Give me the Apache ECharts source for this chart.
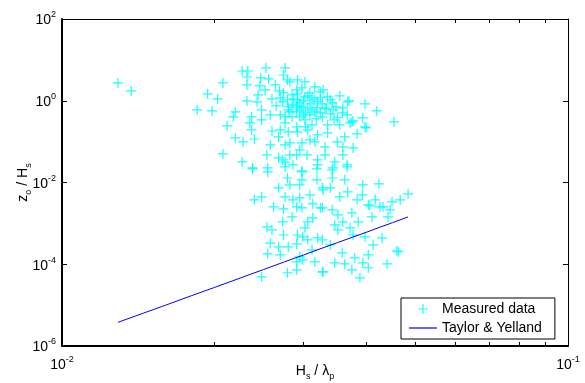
<!DOCTYPE html>
<html>
<head>
<meta charset="utf-8">
<script src="https://cdn.jsdelivr.net/npm/echarts@6/dist/echarts.min.js"></script>
<style>
  html, body { margin: 0; padding: 0; background: #fff; }
  #chart { width: 585px; height: 383px; }
</style>
</head>
<body>
<div id="chart"></div>
<script>
const measuredX = [
  0.0129, 0.0137, 0.0185, 0.0198, 0.0194, 0.0203, 0.0208, 0.0212, 0.0220, 0.0218,
  0.0220, 0.0228, 0.0208, 0.0227, 0.0227, 0.0233, 0.0253, 0.0276, 0.0232, 0.0247,
  0.0256, 0.0232, 0.0246, 0.0279, 0.0232, 0.0243, 0.0269, 0.0260, 0.0270, 0.0237,
  0.0248, 0.0258, 0.0270, 0.0280, 0.0235, 0.0237, 0.0240, 0.0260, 0.0268, 0.0276,
  0.0238, 0.0254, 0.0255, 0.0268, 0.0276, 0.0282, 0.0302, 0.0316, 0.0328, 0.0285,
  0.0292, 0.0302, 0.0312, 0.0324, 0.0335, 0.0280, 0.0291, 0.0298, 0.0306, 0.0319,
  0.0331, 0.0343, 0.0359, 0.0367, 0.0397, 0.0419, 0.0285, 0.0295, 0.0309, 0.0335,
  0.0350, 0.0366, 0.0374, 0.0393, 0.0397, 0.0383, 0.0280, 0.0292, 0.0306, 0.0320,
  0.0335, 0.0350, 0.0362, 0.0282, 0.0298, 0.0316, 0.0331, 0.0359, 0.0376, 0.0282,
  0.0291, 0.0305, 0.0320, 0.0286, 0.0298, 0.0320, 0.0346, 0.0342, 0.0366, 0.0359,
  0.0369, 0.0453, 0.0376, 0.0399, 0.0371, 0.0366, 0.0238, 0.0255, 0.0276, 0.0298,
  0.0319, 0.0279, 0.0298, 0.0319, 0.0282, 0.0240, 0.0248, 0.0276, 0.0295, 0.0309,
  0.0327, 0.0262, 0.0274, 0.0291, 0.0298, 0.0313, 0.0324, 0.0285, 0.0273, 0.0313,
  0.0254, 0.0260, 0.0302, 0.0292, 0.0299, 0.0320, 0.0258, 0.0268, 0.0280, 0.0291,
  0.0306, 0.0255, 0.0270, 0.0295, 0.0291, 0.0299, 0.0279, 0.0291, 0.0327, 0.0248,
  0.0343, 0.0342, 0.0328, 0.0339, 0.0367, 0.0354, 0.0392, 0.0393, 0.0423, 0.0416,
  0.0406, 0.0431, 0.0449, 0.0466, 0.0483, 0.0327, 0.0342, 0.0374, 0.0410, 0.0441,
  0.0445, 0.0346, 0.0359, 0.0371, 0.0351, 0.0376, 0.0397, 0.0429, 0.0327, 0.0358,
  0.0412, 0.0462, 0.0346, 0.0362, 0.0393, 0.0403, 0.0403, 0.0439, 0.0374, 0.0328,
  0.0388, 0.0425, 0.0403, 0.0459, 0.0274, 0.0291, 0.0298, 0.0309, 0.0320, 0.0295,
  0.0309, 0.0316, 0.0327, 0.0302, 0.0276, 0.0291, 0.0342, 0.0354, 0.0279, 0.0265,
  0.0291, 0.0303, 0.0339, 0.0285, 0.0324, 0.0244, 0.0252, 0.0264, 0.0274, 0.0292,
  0.0309, 0.0295, 0.0331, 0.0270, 0.0248, 0.0258, 0.0273, 0.0354, 0.0312, 0.0295,
  0.0268, 0.0286, 0.0306, 0.0274, 0.0312, 0.0339, 0.0379, 0.0316, 0.0351, 0.0385,
  0.0295, 0.0362, 0.0383, 0.0287, 0.0300, 0.0315, 0.0327, 0.0339, 0.0348, 0.0282,
  0.0300, 0.0312, 0.0324, 0.0333, 0.0292, 0.0306, 0.0273, 0.0291, 0.0318, 0.0345,
  0.0276, 0.0358, 0.0303
];
const measuredY = [
  2.73, 1.74, 0.596, 0.563, 1.47, 1.11, 2.73, 0.242, 0.533, 0.402,
  0.123, 0.0983, 0.050, 0.0319, 5.35, 5.35, 6.34, 6.34, 3.81, 3.61,
  3.41, 2.44, 2.30, 3.23, 0.992, 0.939, 1.74, 1.11, 1.17, 0.402,
  0.596, 0.450, 0.450, 0.596, 0.287, 0.193, 0.116, 0.182, 0.130, 0.083,
  0.0227, 0.0473, 0.0227, 0.0399, 0.0319, 2.89, 2.89, 2.18, 1.84, 1.39,
  1.05, 1.24, 1.17, 1.17, 1.24, 0.708, 0.669, 0.708, 0.669, 0.669,
  0.669, 0.596, 0.669, 0.939, 0.838, 0.563, 0.402, 0.402, 0.450, 0.257,
  0.380, 0.450, 0.304, 0.380, 0.229, 0.154, 0.173, 0.173, 0.193, 0.146,
  0.163, 0.0983, 0.130, 0.093, 0.093, 0.0983, 0.0741, 0.0741, 0.070, 0.0473,
  0.0473, 0.0473, 0.0357, 0.027, 0.0181, 0.027, 0.0319, 0.0203, 0.0241, 0.0473,
  0.992, 0.304, 0.321, 0.217, 0.287, 0.027, 0.0215, 0.0181, 0.0241, 0.0192,
  0.0215, 0.0129, 0.0116, 0.0116, 0.00876, 0.00376, 0.00444, 0.00444, 0.0042, 0.00498,
  0.00739, 0.00253, 0.00226, 0.00253, 0.0024, 0.0030, 0.0024, 0.00144, 0.00109, 0.00136,
  0.00082, 0.000693, 0.00078, 0.00052, 0.00047, 0.00044, 0.00033, 0.000266, 0.000266, 0.000315,
  0.000395, 0.00018, 0.00017, 0.000152, 0.000114, 0.000128, 0.000062, 0.000073, 0.000065, 0.000049,
  0.0227, 0.0129, 0.00659, 0.00739, 0.00589, 0.00444, 0.00498, 0.00876, 0.00926, 0.00376,
  0.00268, 0.00253, 0.00336, 0.00376, 0.00526, 0.0024, 0.00214, 0.00181, 0.00144, 0.00144,
  0.00214, 0.00092, 0.00109, 0.00078, 0.000693, 0.00052, 0.00047, 0.00044, 0.000395, 0.00019,
  0.000298, 0.00020, 0.000108, 0.000102, 0.000108, 0.00017, 0.000082, 0.000102, 0.000073, 0.000065,
  0.0000465, 0.00253, 0.00284, 0.000213, 1.55, 1.84, 2.06, 1.55, 0.939, 0.887,
  0.838, 0.533, 0.402, 0.340, 0.287, 0.229, 0.887, 1.31, 1.05, 0.749,
  0.533, 0.504, 0.476, 0.793, 1.64, 1.39, 1.84, 2.44, 4.27, 3.23,
  0.110, 0.0627, 0.0473, 0.193, 0.340, 0.083, 0.0357, 0.257, 0.257, 0.596,
  0.00739, 0.00376, 0.00109, 0.00052, 0.000225, 0.000298, 0.000143, 0.000114, 0.00162, 0.00109,
  0.00876, 0.0116, 0.00376, 1.11, 0.992, 1.05, 0.838, 1.05, 0.708, 0.533,
  0.450, 0.596, 0.504, 0.632, 1.47, 1.31, 0.939, 0.749, 0.359, 0.340,
  0.402, 0.504, 0.229
];

// Taylor & Yelland curve
const tyX = [0.0129, 0.0145, 0.016, 0.018, 0.02, 0.0225, 0.025, 0.0275, 0.03, 0.0325, 0.035, 0.0375, 0.04, 0.0425, 0.045, 0.0483];
const tyY = [3.8e-6, 6.4e-6, 9.9e-6, 1.69e-5, 2.7e-5, 4.6e-5, 7.4e-5, 1.14e-4, 1.68e-4, 2.42e-4, 3.37e-4, 4.59e-4, 6.1e-4, 8.07e-4, 1.04e-3, 1.44e-3];

// tick values of the x axis (one decade, minor ticks at 2..9)
const xMinorTicks = [0.02, 0.03, 0.04, 0.05, 0.06, 0.07, 0.08, 0.09];

const FONT = 'Liberation Sans, Arial, sans-serif';
const plusPath = 'path://M4.4,0H5.6V10H4.4Z M0,4.4H10V5.6H0Z';
const linePath = 'path://M0,0H28V1.2H0Z';

const chart = echarts.init(document.getElementById('chart'), null, { renderer: 'canvas' });

// 10^n label with superscript exponent
const powLabel = (v) => '{b|10}{s|' + Math.round(Math.log10(v)) + '}';
const powRich = {
  b: { fontSize: 14, fontFamily: FONT, color: '#000', lineHeight: 16, verticalAlign: 'bottom' },
  s: { fontSize: 9, fontFamily: FONT, color: '#000', verticalAlign: 'top', padding: [0, 0, 8, 0] }
};
const nameRich = {
  m: { fontSize: 14, fontFamily: FONT, color: '#000', lineHeight: 16, verticalAlign: 'top' },
  u: { fontSize: 9, fontFamily: FONT, color: '#000', verticalAlign: 'top', padding: [8, 0, 0, 0] }
};

const measured = measuredX.map((x, i) => [x, measuredY[i]]);
const tyLine = tyX.map((x, i) => [x, tyY[i]]);

// minor tick axis: log10 positions of the minor ticks on a plain value axis
const minorAxis = (position) => ({
  type: 'value', min: -2, max: -1, position: position,
  axisLine: { show: true, lineStyle: { color: '#000', width: position === 'bottom' ? 2 : 1 } },
  axisTick: {
    show: true, inside: true, length: 4,
    customValues: xMinorTicks.map(Math.log10),
    lineStyle: { color: '#000', width: 1 }
  },
  axisLabel: { show: false },
  splitLine: { show: false }
});

const option = {
  animation: false,
  backgroundColor: '#fff',
  grid: { left: 62, right: 17, top: 19, bottom: 37, containLabel: false, outerBoundsMode: 'none' },
  legend: {
    left: 401, top: 298,
    orient: 'vertical',
    backgroundColor: '#fff',
    borderColor: '#000', borderWidth: 1,
    padding: [4, 13, 4, 8],
    itemGap: 5, itemWidth: 28, itemHeight: 10,
    textStyle: { fontFamily: FONT, fontSize: 14, color: '#000' },
    data: [
      { name: 'Measured data', icon: plusPath },
      { name: 'Taylor & Yelland', icon: linePath }
    ]
  },
  xAxis: [
    {
      type: 'log', logBase: 10, min: 0.01, max: 0.1,
      name: '{m|H}{u|s}{m| / λ}{u|p}',
      nameLocation: 'middle', nameGap: 18, nameMoveOverlap: false,
      nameTextStyle: { rich: nameRich },
      axisLine: { lineStyle: { color: '#000', width: 2 } },
      axisTick: { show: false },
      axisLabel: { margin: 9, formatter: powLabel, rich: powRich },
      splitLine: { show: false }
    },
    {
      type: 'log', logBase: 10, min: 0.01, max: 0.1, position: 'top',
      axisLine: { lineStyle: { color: '#000', width: 1 } },
      axisTick: { show: false },
      axisLabel: { show: false },
      splitLine: { show: false }
    },
    minorAxis('bottom'),
    minorAxis('top')
  ],
  yAxis: [
    {
      type: 'log', logBase: 10, min: 1e-6, max: 1e2, interval: 2,
      name: '{m|z}{u|o}{m| / H}{u|s}',
      nameLocation: 'middle', nameGap: 29, nameRotate: 90, nameMoveOverlap: false,
      nameTextStyle: { rich: nameRich },
      axisLine: { lineStyle: { color: '#000', width: 2 } },
      axisTick: { inside: true, length: 5, lineStyle: { color: '#000' } },
      axisLabel: { margin: 6, formatter: powLabel, rich: powRich },
      splitLine: { show: false }
    },
    {
      type: 'log', logBase: 10, min: 1e-6, max: 1e2, interval: 2, position: 'right',
      axisLine: { lineStyle: { color: '#000', width: 1 } },
      axisTick: { inside: true, length: 5, lineStyle: { color: '#000' } },
      axisLabel: { show: false },
      splitLine: { show: false }
    }
  ],
  series: [
    {
      name: 'Measured data',
      type: 'scatter',
      data: measured,
      symbol: plusPath,
      symbolSize: 10,
      symbolKeepAspect: true,
      itemStyle: { color: '#00FFFF', opacity: 0.9 }
    },
    {
      name: 'Taylor & Yelland',
      type: 'line',
      data: tyLine,
      symbol: 'none',
      lineStyle: { color: '#0000FF', width: 1 },
      itemStyle: { color: '#0000FF' }
    }
  ]
};

chart.setOption(option);
</script>
</body>
</html>
